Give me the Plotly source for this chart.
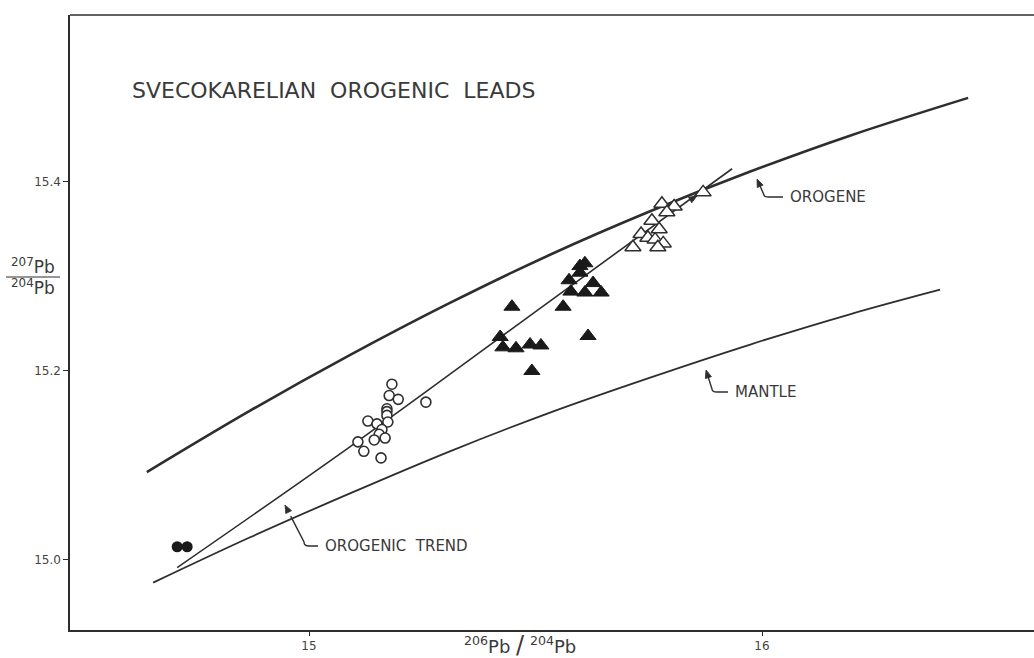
import math
import plotly.graph_objects as go

# ---------------- data ----------------
# Orogene growth curve
orogene_x = [14.642, 14.870, 15.091, 15.311, 15.532, 15.753, 15.974, 16.194, 16.455]
orogene_y = [15.093, 15.158, 15.217, 15.272, 15.323, 15.369, 15.411, 15.449, 15.489]

# Mantle growth curve
mantle_x = [14.656, 14.870, 15.093, 15.311, 15.532, 15.753, 15.974, 16.194, 16.393]
mantle_y = [14.976, 15.024, 15.071, 15.115, 15.156, 15.193, 15.228, 15.260, 15.286]

# Orogenic trend line
trend_x = [14.709, 15.091, 15.532, 15.934]
trend_y = [14.992, 15.120, 15.274, 15.414]

# Open circles
oc_x = [15.183, 15.177, 15.197, 15.258, 15.172, 15.172, 15.172, 15.174, 15.130,
        15.150, 15.161, 15.155, 15.168, 15.144, 15.108, 15.121, 15.159]
oc_y = [15.186, 15.174, 15.170, 15.167, 15.160, 15.157, 15.153, 15.146, 15.147,
        15.144, 15.138, 15.133, 15.129, 15.127, 15.125, 15.115, 15.108]

# Filled circles
fc_x = [14.709, 14.731]
fc_y = [15.014, 15.014]

# Filled triangles
ft_x = [15.598, 15.609, 15.574, 15.598, 15.627, 15.578, 15.609, 15.645, 15.561,
        15.448, 15.422, 15.428, 15.457, 15.488, 15.512, 15.616, 15.492]
ft_y = [15.311, 15.314, 15.296, 15.304, 15.293, 15.284, 15.283, 15.283, 15.268,
        15.268, 15.236, 15.225, 15.224, 15.228, 15.227, 15.237, 15.200]

# Open triangles
ot_x = [15.870, 15.779, 15.806, 15.790, 15.757, 15.773, 15.733, 15.748, 15.764,
        15.782, 15.715, 15.770]
ot_y = [15.389, 15.377, 15.374, 15.368, 15.359, 15.350, 15.345, 15.341, 15.339,
        15.335, 15.331, 15.331]

x_ticks = [15, 16]
x_tick_text = ["15", "16"]
y_ticks = [15.0, 15.2, 15.4]
y_tick_text = ["15.0", "15.2", "15.4"]

title_text = "SVECOKARELIAN  OROGENIC  LEADS"
label_orogene = "OROGENE"
label_mantle = "MANTLE"
label_trend = "OROGENIC  TREND"

# ---------------- styling ----------------
INK = "#2e2e2e"
TXT = "#3a3a3a"
FONT = "DejaVu Sans"

X_RANGE = [14.4724, 16.6004]
Y_RANGE = [14.9259, 15.5767]

W, H = 1034, 658
L, R, T, B = 70, 0, 15, 28
PW, PH = W - L - R, H - T - B


# pixel helpers, used only for placing annotation geometry
def px2x(px):
    return X_RANGE[0] + (px - L) / PW * (X_RANGE[1] - X_RANGE[0])


def py2y(py):
    return Y_RANGE[1] - (py - T) / PH * (Y_RANGE[1] - Y_RANGE[0])


def pxp(px):
    return (px - L) / PW


def pyp(py):
    return (H - B - py) / PH


fig = go.Figure()

fig.add_trace(go.Scatter(x=orogene_x, y=orogene_y, mode="lines",
                         line=dict(color=INK, width=2.6, shape="spline"),
                         hoverinfo="skip"))
fig.add_trace(go.Scatter(x=mantle_x, y=mantle_y, mode="lines",
                         line=dict(color=INK, width=1.8, shape="spline"),
                         hoverinfo="skip"))
fig.add_trace(go.Scatter(x=trend_x, y=trend_y, mode="lines",
                         line=dict(color=INK, width=1.6, shape="spline"),
                         hoverinfo="skip"))

fig.add_trace(go.Scatter(x=oc_x, y=oc_y, mode="markers",
                         marker=dict(symbol="circle", size=10, color="white",
                                     line=dict(color=INK, width=1.6))))
fig.add_trace(go.Scatter(x=fc_x, y=fc_y, mode="markers",
                         marker=dict(symbol="circle", size=11, color="#1a1a1a",
                                     line=dict(color="#1a1a1a", width=0))))
fig.add_trace(go.Scatter(x=ft_x, y=ft_y, mode="markers",
                         marker=dict(symbol="triangle-up", size=14, color="#1a1a1a",
                                     line=dict(color="#1a1a1a", width=1))))
fig.add_trace(go.Scatter(x=ot_x, y=ot_y, mode="markers",
                         marker=dict(symbol="triangle-up", size=14, color="white",
                                     line=dict(color=INK, width=1.5))))

shapes = []
annotations = []

# top frame line
shapes.append(dict(type="line", xref="paper", yref="paper", x0=0, x1=1, y0=1, y1=1,
                   line=dict(color=INK, width=1.5)))


def arrowhead(tail, tip, length=8, half=3.2):
    (ax_, ay_), (tx, ty) = tail, tip
    dx, dy = tx - ax_, ty - ay_
    n = math.hypot(dx, dy)
    ux, uy = dx / n, dy / n
    bx, by = tx - ux * length, ty - uy * length
    p1 = (bx - uy * half, by + ux * half)
    p2 = (bx + uy * half, by - ux * half)
    path = (f"M {px2x(tx)},{py2y(ty)} L {px2x(p1[0])},{py2y(p1[1])} "
            f"L {px2x(p2[0])},{py2y(p2[1])} Z")
    shapes.append(dict(type="path", xref="x", yref="y", path=path,
                       fillcolor=INK, line=dict(color=INK, width=0.8)))


def leader(tip, bend, end, text, fontsize=15):
    (tx, ty), (bx, by), (ex, ey) = tip, bend, end
    path = (f"M {px2x(ex)},{py2y(ey)} L {px2x(bx + 5)},{py2y(ey)} "
            f"Q {px2x(bx)},{py2y(ey)} {px2x(bx)},{py2y(by)} "
            f"L {px2x(tx + (bx - tx) * 0.3)},{py2y(ty + (by - ty) * 0.3)}")
    shapes.append(dict(type="path", xref="x", yref="y", path=path,
                       line=dict(color=INK, width=1.4)))
    arrowhead((bx, by), (tx, ty))
    annotations.append(dict(x=px2x(ex + 5), y=py2y(ey), xref="x", yref="y", text=text,
                            showarrow=False, xanchor="left", yanchor="middle",
                            font=dict(family=FONT, size=fontsize, color=TXT)))


leader((757, 179), (764, 195), (783, 197), label_orogene)
leader((706, 370), (712, 389), (728, 392), label_mantle)
leader((285, 505), (304, 542), (318, 546), label_trend)

# arrow along the trend toward the top open triangle
arrowhead((680, 206), (697, 196))

# title
annotations.append(dict(x=px2x(130), y=py2y(90), xref="x", yref="y", text=title_text,
                        showarrow=False, xanchor="left", yanchor="middle",
                        font=dict(family=FONT, size=22, color=TXT)))

# y-axis label as a fraction (paper coordinates, outside the plot area)
frac_py = 277
annotations.append(dict(x=pxp(33), y=pyp(frac_py), xref="paper", yref="paper",
                        text="<sup>207</sup>Pb", showarrow=False,
                        xanchor="center", yanchor="bottom", yshift=-2,
                        font=dict(family=FONT, size=17, color=TXT)))
annotations.append(dict(x=pxp(33), y=pyp(frac_py), xref="paper", yref="paper",
                        text="<sup>204</sup>Pb", showarrow=False,
                        xanchor="center", yanchor="top", yshift=3,
                        font=dict(family=FONT, size=17, color=TXT)))
shapes.append(dict(type="line", xref="paper", yref="paper", x0=pxp(6), x1=pxp(60),
                   y0=pyp(frac_py), y1=pyp(frac_py), line=dict(color=INK, width=1.2)))

# x-axis label
annotations.append(dict(x=pxp(520), y=pyp(645), xref="paper", yref="paper",
                        text="<sup>206</sup>Pb <span style='font-size:24px'>/</span> <sup>204</sup>Pb",
                        showarrow=False, xanchor="center", yanchor="middle",
                        font=dict(family=FONT, size=18, color=TXT)))

fig.update_layout(
    width=W, height=H,
    margin=dict(l=L, r=R, t=T, b=B),
    paper_bgcolor="white", plot_bgcolor="white",
    showlegend=False,
    shapes=shapes,
    annotations=annotations,
    xaxis=dict(range=X_RANGE, tickvals=x_ticks, ticktext=x_tick_text,
               showgrid=False, zeroline=False, showline=True, linecolor=INK,
               linewidth=1.5, ticks="outside", ticklen=4, tickcolor=INK,
               tickfont=dict(family=FONT, size=12, color="#444")),
    yaxis=dict(range=Y_RANGE, tickvals=y_ticks, ticktext=y_tick_text,
               showgrid=False, zeroline=False, showline=True, linecolor=INK,
               linewidth=1.5, ticks="outside", ticklen=5, tickcolor=INK,
               tickfont=dict(family=FONT, size=12, color="#444")),
)

fig.write_html("out.html")
